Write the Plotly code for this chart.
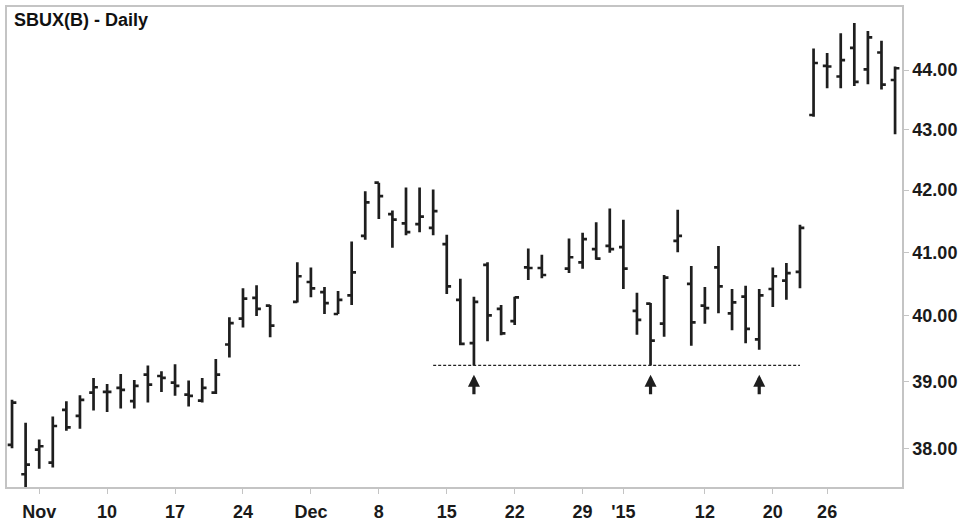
import math
import plotly.graph_objects as go

# ---- data ----
dates = [
    "2014-10-30", "2014-10-31",
    "2014-11-03", "2014-11-04", "2014-11-05", "2014-11-06", "2014-11-07",
    "2014-11-10", "2014-11-11", "2014-11-12", "2014-11-13", "2014-11-14",
    "2014-11-17", "2014-11-18", "2014-11-19", "2014-11-20", "2014-11-21",
    "2014-11-24", "2014-11-25", "2014-11-26", "2014-11-27", "2014-11-28",
    "2014-12-01", "2014-12-02", "2014-12-03", "2014-12-04", "2014-12-05",
    "2014-12-08", "2014-12-09", "2014-12-10", "2014-12-11", "2014-12-12",
    "2014-12-15", "2014-12-16", "2014-12-17", "2014-12-18", "2014-12-19",
    "2014-12-22", "2014-12-23", "2014-12-24", "2014-12-25", "2014-12-26",
    "2014-12-29", "2014-12-30", "2014-12-31", "2015-01-02",
    "2015-01-05", "2015-01-06", "2015-01-07", "2015-01-08", "2015-01-09",
    "2015-01-12", "2015-01-13", "2015-01-14", "2015-01-15", "2015-01-16",
    "2015-01-20", "2015-01-21", "2015-01-22", "2015-01-23",
    "2015-01-26", "2015-01-27", "2015-01-28", "2015-01-29", "2015-01-30",
    "2015-02-02",
]

open_ = [
    38.05, 37.62,
    37.98, 37.79, 38.57, 38.48, 38.83,
    38.84, 38.90, 38.70, 39.10, 39.08,
    38.98, 38.80, 38.71, 38.83, 39.56,
    39.96, 40.28, 40.16, None, 40.22,
    40.53, 40.37, 40.03, 40.32, 41.26,
    42.12, 41.61, 41.46, 41.45, 41.39,
    41.13, 40.25, 39.58, 40.80, 40.11,
    39.92, 40.76, 40.75, None, 40.74,
    40.84, 41.05, 41.10, 41.08,
    40.08, 40.19, 39.88, 41.18, 40.50,
    40.16, 40.76, 40.04, 40.30, 39.64,
    40.42, 40.55, 40.69, 43.24,
    44.07, 43.89, 44.38, 44.01, 44.30,
    43.83,
]
high = [
    38.72, 38.38,
    38.13, 38.47, 38.70, 38.79, 39.05,
    38.96, 39.11, 39.02, 39.24, 39.15,
    39.26, 39.01, 39.05, 39.34, 39.98,
    40.43, 40.48, 40.17, None, 40.84,
    40.76, 40.45, 40.39, 41.17, 41.98,
    42.12, 41.67, 42.04, 42.04, 42.01,
    41.28, 40.58, 40.30, 40.84, 40.17,
    40.30, 41.06, 40.96, None, 41.22,
    41.31, 41.48, 41.70, 41.52,
    40.36, 40.20, 40.64, 41.68, 40.78,
    40.45, 41.10, 40.42, 40.47, 40.42,
    40.76, 40.83, 41.44, 44.37,
    44.29, 44.63, 44.81, 44.67, 44.50,
    44.06,
]
low = [
    38.00, 37.42,
    37.70, 37.72, 38.26, 38.29, 38.56,
    38.54, 38.59, 38.59, 38.68, 38.84,
    38.78, 38.62, 38.68, 38.81, 39.36,
    39.82, 40.00, 39.67, None, 40.21,
    40.29, 40.03, 40.03, 40.17, 41.20,
    41.53, 41.07, 41.27, 41.32, 41.27,
    40.34, 39.55, 39.24, 39.61, 39.70,
    39.86, 40.56, 40.59, None, 40.67,
    40.74, 40.88, 40.99, 40.42,
    39.71, 39.24, 39.68, 41.00, 39.54,
    39.88, 40.04, 39.78, 39.58, 39.48,
    40.14, 40.25, 40.43, 43.21,
    43.69, 43.69, 43.73, 43.76, 43.67,
    42.92,
]
close = [
    38.68, 37.76,
    38.03, 38.33, 38.31, 38.72, 38.91,
    38.84, 38.87, 38.93, 38.95, 39.05,
    38.93, 38.78, 38.90, 39.10, 39.89,
    40.27, 40.11, 39.85, None, 40.62,
    40.43, 40.20, 40.25, 40.68, 41.80,
    41.90, 41.52, 41.32, 41.57, 41.66,
    40.46, 39.57, 40.22, 40.01, 39.73,
    40.29, 40.75, 40.64, None, 40.92,
    41.21, 40.90, 41.05, 40.74,
    39.94, 39.62, 40.60, 41.26, 39.90,
    40.12, 40.46, 40.21, 39.80, 40.32,
    40.62, 40.67, 41.39, 44.12,
    44.06, 44.17, 43.80, 44.56, 43.75,
    44.03,
]

tick_dates = ["2014-11-03", "2014-11-10", "2014-11-17", "2014-11-24",
              "2014-12-01", "2014-12-08", "2014-12-15", "2014-12-22",
              "2014-12-29", "2015-01-02", "2015-01-12", "2015-01-20",
              "2015-01-26"]
tick_labels = ["Nov", "10", "17", "24", "Dec", "8", "15", "22", "29",
               "'15", "12", "20", "26"]

price_ticks = [38, 39, 40, 41, 42, 43, 44]
price_tick_labels = ["38.00", "39.00", "40.00", "41.00", "42.00", "43.00", "44.00"]

support_level = 39.24
support_start = "2014-12-12"
support_end = "2015-01-22"

arrow_dates = ["2014-12-17", "2015-01-06", "2015-01-16"]
arrow_tip_price = 39.10

title_text = "SBUX(B) - Daily"

# ---- figure ----
BAR = "#1e1e1e"
AXC = "#c4c4c4"
FONT = "Liberation Sans, Arial, Helvetica, sans-serif"

fig = go.Figure()
fig.add_trace(go.Ohlc(
    x=dates, open=open_, high=high, low=low, close=close,
    increasing=dict(line=dict(color=BAR, width=2.7)),
    decreasing=dict(line=dict(color=BAR, width=2.7)),
    tickwidth=0.32, showlegend=False, hoverinfo="skip",
))
fig.add_trace(go.Scatter(
    x=[support_start, support_end], y=[support_level, support_level],
    mode="lines", line=dict(color="#222222", width=1.3, dash="3px,2px"),
    showlegend=False, hoverinfo="skip",
))

for d in arrow_dates:
    fig.add_annotation(
        x=d, y=math.log10(arrow_tip_price), xref="x", yref="y",
        showarrow=True, arrowhead=2, arrowsize=0.75, arrowwidth=3.2,
        arrowcolor=BAR, ax=0, ay=21, text="",
    )

fig.add_annotation(
    x=0.0056, y=0.9735, xref="paper", yref="paper",
    xanchor="left", yanchor="middle", showarrow=False,
    text=title_text, font=dict(family=FONT, size=18, color="#111111", weight="bold"),
)

fig.update_layout(
    width=969, height=523,
    margin=dict(l=7, r=67, t=7, b=36),
    paper_bgcolor="white", plot_bgcolor="white",
    font=dict(family=FONT, size=18, color="#1a1a1a", weight="bold"),
    xaxis=dict(
        type="category", categoryorder="array", categoryarray=dates,
        range=[-0.37, 65.51], rangeslider=dict(visible=False),
        tickmode="array", tickvals=tick_dates, ticktext=tick_labels,
        showgrid=False, zeroline=False, automargin=False,
        showline=True, linecolor=AXC, linewidth=1.5, mirror=True,
        ticks="outside", ticklen=5, tickcolor=AXC, tickwidth=1,
        ticklabelstandoff=3,
        tickfont=dict(family=FONT, size=18, color="#1a1a1a", weight="bold"),
    ),
    yaxis=dict(
        type="log", side="right", automargin=False,
        range=[1.57327, 1.65406],
        tickmode="array", tickvals=price_ticks, ticktext=price_tick_labels,
        showgrid=False, zeroline=False,
        showline=True, linecolor=AXC, linewidth=1.5, mirror=True,
        ticks="outside", ticklen=5, tickcolor=AXC, tickwidth=1,
        tickfont=dict(family=FONT, size=18, color="#1a1a1a", weight="bold"),
    ),
)

fig.write_html(
    "out.html",
    config={"displayModeBar": False},
    post_script="document.body.style.margin='0';document.body.style.overflow='hidden';",
)
